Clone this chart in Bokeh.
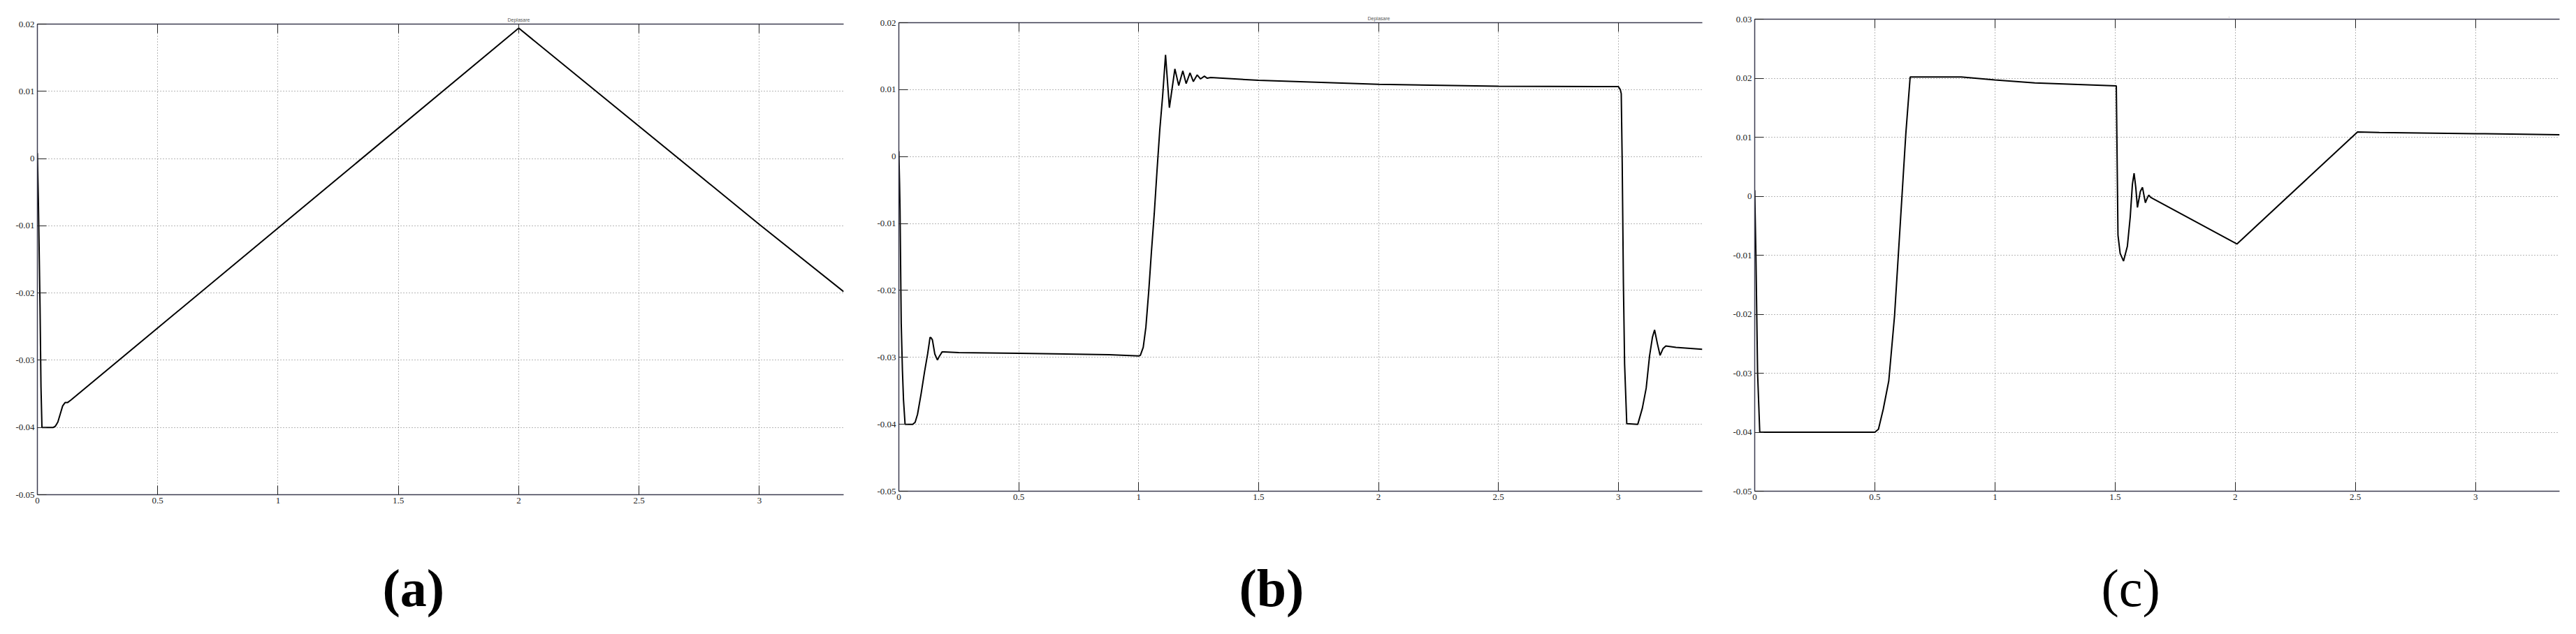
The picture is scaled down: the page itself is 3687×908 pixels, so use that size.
from bokeh.plotting import figure
from bokeh.layouts import row, column
from bokeh.models import FixedTicker, LinearAxis, Label, Range1d
from bokeh.embed import file_html
from bokeh.resources import INLINE

# ---------------- data ----------------
x_ticks = [0, 0.5, 1, 1.5, 2, 2.5, 3]
x_labels = ["0", "0.5", "1", "1.5", "2", "2.5", "3"]

y_ticks_ab = [-0.05, -0.04, -0.03, -0.02, -0.01, 0, 0.01, 0.02]
y_labels_ab = ["-0.05", "-0.04", "-0.03", "-0.02", "-0.01", "0", "0.01", "0.02"]
y_ticks_c = [-0.05, -0.04, -0.03, -0.02, -0.01, 0, 0.01, 0.02, 0.03]
y_labels_c = ["-0.05", "-0.04", "-0.03", "-0.02", "-0.01", "0", "0.01", "0.02", "0.03"]

# panel (a)
t_a = [0, 0.004, 0.008, 0.011, 0.015, 0.019, 0.040, 0.066, 0.075, 0.085,
       0.095, 0.105, 0.115, 0.125, 0.140, 2.0, 3.0, 3.35]
y_a = [0.0008, -0.006, -0.015, -0.022, -0.034, -0.0400, -0.0400, -0.0400, -0.0398, -0.0392,
       -0.0380, -0.0368, -0.0363, -0.0363, -0.0359, 0.0194, -0.0098, -0.0198]

# panel (b)
t_b = [0, 0.003, 0.005, 0.010, 0.015, 0.0195, 0.026, 0.045, 0.058, 0.068,
       0.078, 0.093, 0.107, 0.120, 0.127, 0.130, 0.135, 0.140, 0.150, 0.161,
       0.168, 0.175, 0.180, 0.190, 0.25, 0.5, 0.877, 1.0, 1.007, 1.019,
       1.030, 1.042, 1.053, 1.065, 1.077, 1.088, 1.100, 1.112, 1.128, 1.151,
       1.167, 1.184, 1.198, 1.214, 1.228, 1.244, 1.258, 1.274, 1.286, 1.300,
       1.5, 2.0, 2.5, 3.0, 3.008, 3.012, 3.016, 3.021, 3.026, 3.035,
       3.081, 3.100, 3.116, 3.130, 3.142, 3.151, 3.163, 3.174, 3.186, 3.198,
       3.240, 3.35]
y_b = [0.0008, -0.004, -0.008, -0.025, -0.032, -0.0364, -0.0400, -0.0400, -0.0400, -0.0397,
       -0.0385, -0.0354, -0.0322, -0.0295, -0.0278, -0.0270, -0.0271, -0.0274, -0.0295, -0.0304,
       -0.0299, -0.0295, -0.0292, -0.0292, -0.0293, -0.0294, -0.0296, -0.0298, -0.0297, -0.0285,
       -0.0255, -0.0201, -0.0143, -0.0085, -0.0018, 0.0040, 0.0091, 0.0152, 0.0073, 0.0131,
       0.0106, 0.0128, 0.0109, 0.0125, 0.0112, 0.0122, 0.0116, 0.0120, 0.0117, 0.0118,
       0.0114, 0.0108, 0.0105, 0.01045, 0.0100, 0.0094, -0.0008, -0.0189, -0.0310, -0.0399,
       -0.0400, -0.0376, -0.0346, -0.0298, -0.0270, -0.0259, -0.0280, -0.0297, -0.0287, -0.0283,
       -0.0285, -0.0288]

# panel (c)
t_c = [0, 0.005, 0.012, 0.021, 0.5, 0.515, 0.535, 0.558, 0.582, 0.605,
       0.629, 0.647, 0.86, 1.0, 1.166, 1.505, 1.512, 1.521, 1.535, 1.551,
       1.563, 1.572, 1.579, 1.586, 1.593, 1.605, 1.614, 1.620, 1.626, 1.633,
       1.640, 1.648, 1.657, 2.007, 2.509, 2.6, 3.0, 3.2, 3.35]
y_c = [0.0010, -0.0100, -0.0300, -0.0400, -0.0400, -0.0395, -0.0361, -0.0313, -0.0203, -0.0052,
       0.0106, 0.0202, 0.0202, 0.0197, 0.0192, 0.0187, -0.0066, -0.0097, -0.0110, -0.0085,
       -0.0035, 0.0020, 0.0039, 0.0015, -0.0019, 0.0008, 0.0015, 0.0002, -0.0011, -0.0004,
       0.0002, -0.0002, -0.0004, -0.0081, 0.0109, 0.0108, 0.0106, 0.0105, 0.0104]

AXIS_COLOR = "#3c3c50"
TICK_FONT = "Liberation Sans Narrow"
PLOT_H = 740
LABEL_H = 160


def style_axis(ax, ticks, labels, show_labels=True):
    ax.ticker = FixedTicker(ticks=ticks)
    ax.axis_line_color = AXIS_COLOR
    ax.axis_line_width = 1.5
    ax.major_tick_line_color = "#222222"
    ax.major_tick_in = 13
    ax.major_tick_out = 0
    ax.minor_tick_line_color = None
    if show_labels:
        ax.major_label_overrides = {tk: lb for tk, lb in zip(ticks, labels)}
        ax.major_label_text_font = TICK_FONT
        ax.major_label_text_font_size = "13px"
        ax.major_label_text_color = "#222222"
        ax.major_label_standoff = 4
    else:
        ax.major_label_text_color = None
        ax.major_label_text_font_size = "1px"
        ax.major_label_standoff = 0


def make_panel(t, y, yticks, ylabels, y0, y1, width, bl, br, bt, bb,
               title_text, title_offset, label_text, label_x, label_style):
    p = figure(width=width, height=PLOT_H, x_range=Range1d(0, 3.35), y_range=Range1d(y0, y1),
               output_backend="svg", toolbar_location=None,
               min_border_left=bl, min_border_right=br, min_border_top=bt, min_border_bottom=bb)
    p.outline_line_color = None
    p.background_fill_color = "white"
    p.border_fill_color = "white"
    style_axis(p.xaxis[0], x_ticks, x_labels)
    style_axis(p.yaxis[0], yticks, ylabels)
    top = LinearAxis()
    style_axis(top, x_ticks, x_labels, show_labels=False)
    p.add_layout(top, "above")
    for g, tk in ((p.xgrid[0], x_ticks), (p.ygrid[0], yticks)):
        g.ticker = FixedTicker(ticks=tk)
        g.grid_line_color = "#6e6e6e"
        g.grid_line_dash = "1 3"
        g.grid_line_width = 1
    p.line(t, y, line_color="black", line_width=2)

    p.title.text = title_text
    p.title.text_font = "Liberation Sans"
    p.title.text_font_size = "7px"
    p.title.text_font_style = "normal"
    p.title.text_color = "#555555"
    p.title.align = "left"
    p.title.offset = title_offset
    p.title.standoff = 5

    # caption strip below the panel
    lab = figure(width=width, height=LABEL_H, x_range=Range1d(0, 1), y_range=Range1d(0, 1),
                 output_backend="svg", toolbar_location=None,
                 x_axis_location=None, y_axis_location=None,
                 min_border_left=0, min_border_right=0, min_border_top=0, min_border_bottom=0)
    lab.outline_line_color = None
    lab.xgrid.visible = False
    lab.ygrid.visible = False
    lab.add_layout(Label(x=label_x, y=59, x_units="screen", y_units="screen",
                         text=label_text, text_align="left", text_baseline="middle",
                         text_font="Liberation Serif", text_font_size="76px",
                         text_font_style=label_style, text_color="black"))
    return column(p, lab, spacing=0)


pa = make_panel(t_a, y_a, y_ticks_ab, y_labels_ab, -0.05, 0.02, 1240, 53, 33, 34, PLOT_H - 708,
                "Deplasare", 673, "(a)", 494, "bold")
pb = make_panel(t_b, y_b, y_ticks_ab, y_labels_ab, -0.05, 0.02, 1230, 46, 34, 32, PLOT_H - 703,
                "Deplasare", 671, "(b)", 487, "bold")
pc = make_panel(t_c, y_c, y_ticks_c, y_labels_c, -0.05, 0.03, 1209, 41, 16, 27, PLOT_H - 703,
                ".", 678, "(c)", 496, "normal")

layout = row(pa, pb, pc, spacing=0)
open("out.html", "w").write(file_html(layout, INLINE))
